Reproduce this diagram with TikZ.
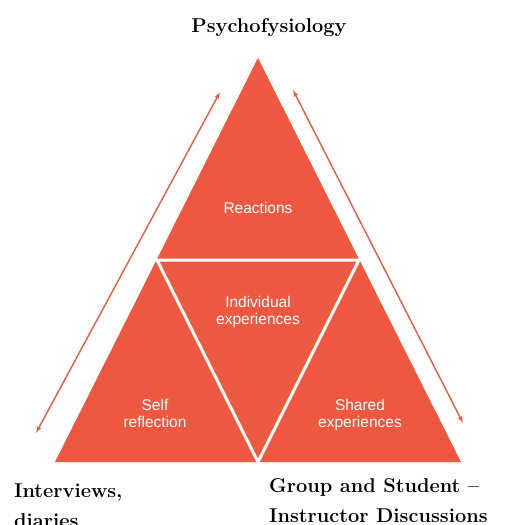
\documentclass[tikz,border=0pt]{standalone}
\usepackage{fontspec}
\newfontfamily\arialfont{Liberation Sans}
\usetikzlibrary{arrows,positioning,shadows}
\definecolor{coral}{RGB}{238,88,64}
\newcommand{\newCorner}[2]{\coordinate (#1) at (#2);}
\newcommand{\newArrow}[3]{\path (#1) edge [link,#3] (#2); }

\begin{document}
\begin{tikzpicture}[
    % Units: one point per pixel, y grows downwards
    x=1pt,y=-1pt,
    % Default arrow tip
    >=latex',
    % Text inside the pyramid
    part/.style={text=white,font=\arialfont\fontsize{15.5}{17}\selectfont,align=center,inner sep=0pt},
    % Text round the pyramid
    title/.style={font=\fontsize{20}{30}\selectfont\bfseries,inner sep=0pt},
    % Arrows along the sides
    link/.style={<->,color=coral,line width=1.4pt},
    % White cuts between the parts
    gap/.style={draw=white,line width=3pt}
    ]
    \useasboundingbox (0,0) rectangle (507,525);

    \newCorner{top}{258,58}
    \newCorner{ml}{157,260}
    \newCorner{mr}{359,260}
    \newCorner{bl}{55,462}
    \newCorner{bm}{258,462}
    \newCorner{br}{461,462}

    \fill[coral] (top) -- (bl) -- (br) -- cycle;
    \draw[gap] (ml) -- (mr) -- (bm) -- cycle;

    % baseline of the last line
    \node[part,anchor=base] (reactions) at (258,213) {Reactions};
    \node[part,anchor=base] (individual) at (258,324) {Individual\\experiences};
    \node[part,anchor=base] (self) at (155,427) {Self\\reflection};
    \node[part,anchor=base] (shared) at (360,427) {Shared\\experiences};

    \node[title,anchor=base] (psycho) at (269,32) {Psychofysiology};
    \node[title,anchor=base west,align=left] (interviews) at (14,527) {Interviews,\\diaries};
    \node[title,anchor=base west,align=left] (group) at (269,522) {Group and Student --\\Instructor Discussions};

    \newCorner{la}{36,433}
    \newCorner{lb}{220,92}
    \newCorner{ra}{293,90}
    \newCorner{rb}{463,423}

    \newArrow{la}{lb}{}
    \newArrow{ra}{rb}{}
\end{tikzpicture}
\end{document}
